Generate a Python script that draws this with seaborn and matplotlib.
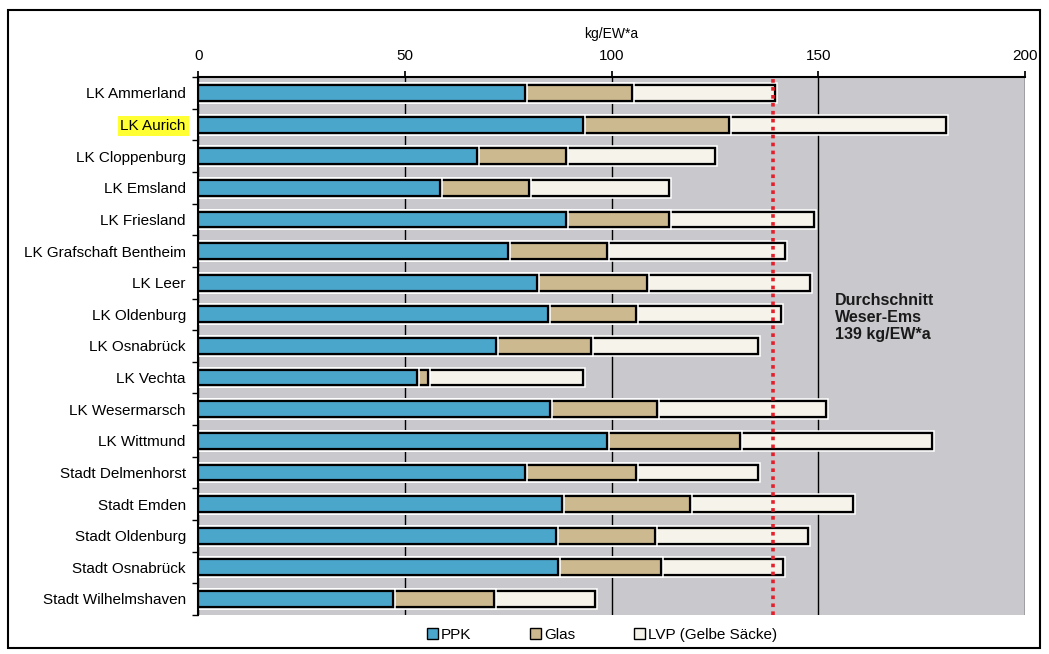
import numpy as np
import pandas as pd
import seaborn as sns
import matplotlib.pyplot as plt
import matplotlib.patheffects as pe
from matplotlib.patches import Rectangle, Patch

sns.set_theme(style="white")
plt.rcParams['font.family'] = ['Liberation Sans', 'DejaVu Sans']
plt.rcParams['text.color'] = 'black'
plt.rcParams['xtick.color'] = 'black'
plt.rcParams['ytick.color'] = 'black'
plt.rcParams['axes.labelcolor'] = 'black'

# Data (kg/EW*a)
regions = ["LK Ammerland", "LK Aurich", "LK Cloppenburg", "LK Emsland",
           "LK Friesland", "LK Grafschaft Bentheim", "LK Leer", "LK Oldenburg",
           "LK Osnabrück", "LK Vechta", "LK Wesermarsch", "LK Wittmund",
           "Stadt Delmenhorst", "Stadt Emden", "Stadt Oldenburg",
           "Stadt Osnabrück", "Stadt Wilhelmshaven"]
ppk = [79, 93, 67.5, 58.5, 89, 75, 82, 84.5, 72, 53, 85, 99, 79, 88, 86.5, 87, 47]
glas = [26, 35.5, 21.5, 21.5, 25, 24, 26.5, 21.5, 23, 2.5, 26, 32, 27, 31, 24, 25, 24.5]
lvp = [34.5, 52.5, 36, 34, 35, 43, 39.5, 35, 40.5, 37.5, 41, 46.5, 29.5, 39.5, 37, 29.5, 24.5]
avg = 139
xticks = [0, 50, 100, 150, 200]
series = ["PPK", "Glas", "LVP (Gelbe Säcke)"]
colors = ["#4ba6cc", "#cdb98f", "#f5f3ea"]

df = pd.DataFrame({"region": regions, "PPK": ppk, "Glas": glas, "LVP": lvp})
df["ppk_glas"] = df["PPK"] + df["Glas"]
df["total"] = df["ppk_glas"] + df["LVP"]

fig = plt.figure(figsize=(10.49, 6.54), dpi=100)
ax = fig.add_axes([0.189, 0.06, 0.788, 0.822])
ax.set_facecolor("#c8c8cd")

# stacked bars: draw cumulative sums back to front
for col, c in [("total", colors[2]), ("ppk_glas", colors[1]), ("PPK", colors[0])]:
    sns.barplot(data=df, x=col, y="region", color=c, width=0.5, saturation=1,
                edgecolor="black", linewidth=1.6, errorbar=None, orient="h", ax=ax)
for p in ax.patches:
    p.set_path_effects([pe.withStroke(linewidth=4, foreground="white"), pe.Normal()])

ax.axvline(avg, color="#e3202b", ls=(0, (1, 1.2)), lw=2.6, zorder=5)
ax.text(154, 7.1, "Durchschnitt\nWeser-Ems\n139 kg/EW*a", fontsize=11.5,
        fontweight="bold", va="center", ha="left", color="#1a1a1a")

ax.set_xlim(0, 200)
ax.set_ylim(len(regions) - 0.5, -0.5)
ax.xaxis.tick_top()
ax.xaxis.set_label_position("top")
ax.set_xticks(xticks)
ax.set_xlabel("kg/EW*a", fontsize=10, labelpad=8)
ax.set_ylabel("")
ax.grid(axis="x", color="black", lw=1)
ax.grid(axis="y", visible=False)
ax.set_axisbelow(True)
ax.tick_params(axis="x", top=True, length=4, color="black", labelsize=11, pad=6)
ax.set_yticks(np.arange(len(regions) + 1) - 0.5, minor=True)
ax.tick_params(axis="y", which="major", length=0, labelsize=11, pad=9)
ax.tick_params(axis="y", which="minor", left=True, length=4, color="black")
for s in ["top", "left"]:
    ax.spines[s].set_color("black")
    ax.spines[s].set_linewidth(1.5)
for s in ["right", "bottom"]:
    ax.spines[s].set_visible(False)

for lbl in ax.get_yticklabels():
    if lbl.get_text() == "LK Aurich":
        lbl.set_bbox(dict(facecolor="#ffff33", edgecolor="none", pad=2))

handles = [Patch(facecolor=c, edgecolor="black", label=s) for s, c in zip(series, colors)]
fig.legend(handles=handles, loc="center", bbox_to_anchor=(0.574, 0.029), ncol=3,
           frameon=False, handlelength=0.7, handleheight=0.7, handletextpad=0.2,
           columnspacing=3.85, fontsize=11)

fig.add_artist(Rectangle((0.0076, 0.009), 0.984, 0.976, transform=fig.transFigure,
                         fill=False, edgecolor="black", lw=1.5))

fig.savefig("out.png", dpi=100)
